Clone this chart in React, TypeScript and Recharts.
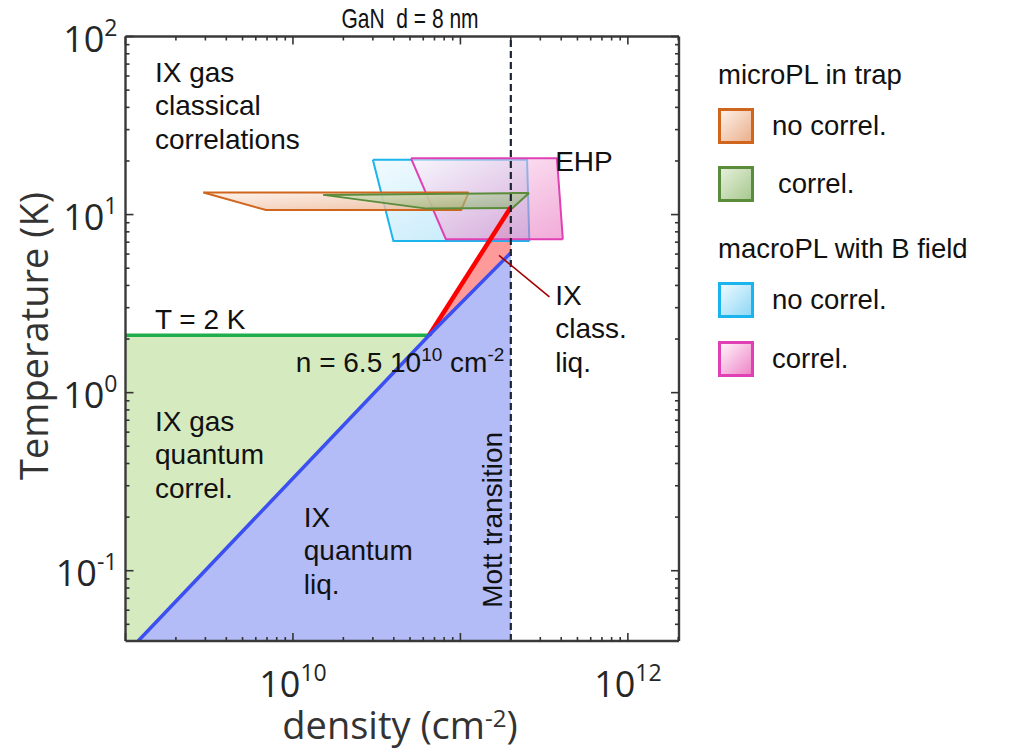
import React from 'react';
import { ComposedChart, Area, Line, XAxis, YAxis, Scatter } from 'recharts';

// ---------- axes ----------
const X_DOMAIN = [1e9, 2.02e12];
const Y_DOMAIN = [0.0403, 100];
const X_DECADES = [9, 10, 11, 12];
const Y_DECADES = [-2, -1, 0, 1, 2];
const X_LABEL_EXPS = [10, 12];
const Y_LABEL_EXPS = [-1, 0, 1, 2];

const buildTicks = (decades: number[], lo: number, hi: number) => {
  const out: number[] = [];
  decades.forEach((d) => {
    [1, 2, 3, 4, 5, 6, 7, 8, 9].forEach((k) => {
      const v = k * Math.pow(10, d);
      if (v >= lo * 0.999 && v <= hi * 1.001) out.push(v);
    });
  });
  return out;
};
const xTicks = buildTicks(X_DECADES, X_DOMAIN[0], X_DOMAIN[1]);
const yTicks = buildTicks(Y_DECADES, Y_DOMAIN[0], Y_DOMAIN[1]);

// ---------- phase diagram regions (n in cm^-2, T in K) ----------
const greenRegion = [
  { n: 1e9, range: [0.0403, 2.1] },
  { n: 1.19e9, range: [0.0403, 2.1] },
  { n: 6.5e10, range: [2.1, 2.1] },
];
const blueRegion = [
  { n: 1.19e9, range: [0.0403, 0.0403] },
  { n: 6.5e10, range: [0.0403, 2.1] },
  { n: 2e11, range: [0.0403, 6.1] },
];
const redRegion = [
  { n: 6.5e10, range: [2.1, 2.1] },
  { n: 2e11, range: [6.1, 11] },
];
const blueLine = [
  { n: 1.19e9, T: 0.0403 },
  { n: 6.5e10, T: 2.1 },
  { n: 2e11, T: 6.1 },
];
const redLine = [
  { n: 6.5e10, T: 2.1 },
  { n: 2e11, T: 11 },
];
const greenLine = [
  { n: 1e9, T: 2.1 },
  { n: 6.5e10, T: 2.1 },
];
const mottLine = [
  { n: 2e11, T: 0.0403 },
  { n: 2e11, T: 100 },
];
const pointerLine = [
  { n: 1.7e11, T: 5.9 },
  { n: 3.4e11, T: 3.45 },
];

// ---------- experimental boxes ----------
const orangeBox = [
  { n: 2.92e9, range: [13.3, 13.3] },
  { n: 6.9e9, range: [10.6, 13.3] },
  { n: 1.01e11, range: [10.6, 13.3] },
  { n: 1.12e11, range: [13.3, 13.3] },
];
const greenBox = [
  { n: 1.52e10, range: [12.9, 12.9] },
  { n: 6.3e10, range: [10.8, 13.05] },
  { n: 2.05e11, range: [10.9, 13.2] },
  { n: 2.57e11, range: [13.2, 13.2] },
];
const cyanBox = [
  { n: 3.0e10, range: [20.3, 20.3] },
  { n: 3.98e10, range: [7.1, 20.3] },
  { n: 2.5e11, range: [7.1, 20.3] },
  { n: 2.58e11, range: [7.1, 7.1] },
];
const pinkBox = [
  { n: 5.07e10, range: [20.7, 20.7] },
  { n: 8.19e10, range: [7.27, 20.7] },
  { n: 3.77e11, range: [7.27, 20.7] },
  { n: 4.09e11, range: [7.27, 7.27] },
];

// ---------- annotations (anchor = left baseline of first line) ----------
const annotations = [
  { n: 1.5e9, T: 55.6, lines: ['IX gas', 'classical', 'correlations'], kind: 'plain' },
  { n: 3.68e11, T: 17.6, lines: ['EHP'], kind: 'plain' },
  { n: 1.5e9, T: 2.28, lines: ['T = 2 K'], kind: 'plain' },
  { n: 1.04e10, T: 1.31, lines: ['n = 6.5 10|10| cm|-2'], kind: 'sup' },
  { n: 1.5e9, T: 0.61, lines: ['IX gas', 'quantum', 'correl.'], kind: 'plain' },
  { n: 1.16e10, T: 0.176, lines: ['IX', 'quantum', 'liq.'], kind: 'plain' },
  { n: 3.68e11, T: 3.11, lines: ['IX', 'class.', 'liq.'], kind: 'plain' },
  { n: 1.77e11, T: 0.193, lines: ['Mott transition'], kind: 'rot' },
];

const legendGroups = [
  {
    title: 'microPL in trap',
    items: [
      { label: 'no correl.', stroke: '#d0661e', from: '#fdf0e8', to: '#eab08c' },
      { label: 'correl.', stroke: '#5b8c3c', from: '#e4f0da', to: '#a9c890' },
    ],
  },
  {
    title: 'macroPL with B field',
    items: [
      { label: 'no correl.', stroke: '#1cb4ec', from: '#eef9fe', to: '#8fd8f6' },
      { label: 'correl.', stroke: '#e040b4', from: '#fff2fa', to: '#ee86c8' },
    ],
  },
];

const TEXT_FONT = "'Liberation Sans', Arial, sans-serif";
const AXIS_FONT = "'Open Sans', 'DejaVu Sans', sans-serif";
const LINE_GAP = 33.5;

const Annotation = (props: any) => {
  const { cx, cy, payload } = props;
  if (cx == null || cy == null) return null;
  const common = { fontFamily: TEXT_FONT, fontSize: 28, fill: '#111' };
  if (payload.kind === 'rot') {
    return (
      <text {...common} x={cx} y={cy} textAnchor="middle" transform={`rotate(-90 ${cx} ${cy})`}>
        {payload.lines[0]}
      </text>
    );
  }
  if (payload.kind === 'sup') {
    const parts = payload.lines[0].split('|');
    return (
      <text {...common} x={cx} y={cy}>
        <tspan>{parts[0]}</tspan>
        <tspan dy={-11} fontSize={19}>{parts[1]}</tspan>
        <tspan dy={11}>{parts[2]}</tspan>
        <tspan dy={-11} fontSize={19}>{parts[3]}</tspan>
      </text>
    );
  }
  return (
    <text {...common} x={cx} y={cy}>
      {payload.lines.map((l: string, i: number) => (
        <tspan key={i} x={cx} dy={i === 0 ? 0 : LINE_GAP}>
          {l}
        </tspan>
      ))}
    </text>
  );
};

const exponentOf = (v: number) => {
  const e = Math.round(Math.log10(v));
  const major = Math.abs(v - Math.pow(10, e)) / v < 1e-6;
  return { e, major };
};

const TICK_COLOR = '#333';
const MAJOR = 8;
const MINOR = 4;
const TICK_FONT = 36;
const SUP_FONT = 23;

const BottomTick = (props: any) => {
  const { x, y, payload } = props;
  const { e, major } = exponentOf(payload.value);
  return (
    <g>
      <line x1={x} x2={x} y1={y} y2={y - (major ? MAJOR : MINOR)} stroke={TICK_COLOR} strokeWidth={1.6} />
      {major && X_LABEL_EXPS.includes(e) && (
        <text x={x} y={y + 56} textAnchor="middle" fontFamily={AXIS_FONT} fontSize={TICK_FONT} fill="#262626">
          10<tspan dy={-16} fontSize={SUP_FONT}>{e}</tspan>
        </text>
      )}
    </g>
  );
};
const TopTick = (props: any) => {
  const { x, y, payload } = props;
  const { major } = exponentOf(payload.value);
  return <line x1={x} x2={x} y1={y} y2={y + (major ? MAJOR : MINOR)} stroke={TICK_COLOR} strokeWidth={1.6} />;
};
const LeftTick = (props: any) => {
  const { x, y, payload } = props;
  const { e, major } = exponentOf(payload.value);
  return (
    <g>
      <line x1={x} x2={x + (major ? MAJOR : MINOR)} y1={y} y2={y} stroke={TICK_COLOR} strokeWidth={1.6} />
      {major && Y_LABEL_EXPS.includes(e) && (
        <text x={x - 8} y={y + 15.5} textAnchor="end" fontFamily={AXIS_FONT} fontSize={TICK_FONT} fill="#262626">
          10<tspan dy={-16} fontSize={SUP_FONT}>{e}</tspan>
        </text>
      )}
    </g>
  );
};
const RightTick = (props: any) => {
  const { x, y, payload } = props;
  const { major } = exponentOf(payload.value);
  return <line x1={x} x2={x - (major ? MAJOR : MINOR)} y1={y} y2={y} stroke={TICK_COLOR} strokeWidth={1.6} />;
};

const axisLine = { stroke: '#3a3a3a', strokeWidth: 2.4 };

const rangeArea = (key: string, data: any[], fill: string, stroke: string, sw = 2, opacity = 1) => (
  <Area
    key={key}
    data={data}
    dataKey="range"
    type="linear"
    fill={fill}
    fillOpacity={opacity}
    stroke={stroke}
    strokeWidth={sw}
    isAnimationActive={false}
    dot={false}
    activeDot={false}
    legendType="none"
  />
);

export default function App() {
  return (
    <div style={{ position: 'absolute', left: 0, top: 0, width: 1009, height: 750, background: '#fff' }}>
      <svg width={0} height={0} style={{ position: 'absolute' }}>
        <defs>
          <linearGradient id="gOrange" x1="0" y1="0" x2="1" y2="1">
            <stop offset="0%" stopColor="#fdf0e8" />
            <stop offset="100%" stopColor="#eab08c" />
          </linearGradient>
          <linearGradient id="gGreen" x1="0" y1="0" x2="1" y2="1">
            <stop offset="0%" stopColor="#c8e0b4" />
            <stop offset="100%" stopColor="#86ad6a" />
          </linearGradient>
          <linearGradient id="gCyan" x1="0" y1="0" x2="1" y2="1">
            <stop offset="0%" stopColor="#eaf8fe" />
            <stop offset="100%" stopColor="#9adcf7" />
          </linearGradient>
          <linearGradient id="gPink" x1="0" y1="0" x2="1" y2="1">
            <stop offset="0%" stopColor="#fff4fb" />
            <stop offset="100%" stopColor="#e666b8" />
          </linearGradient>
        </defs>
      </svg>
      <ComposedChart
        width={1009}
        height={750}
        margin={{ top: 35.5, right: 329, bottom: 108, left: 124.5 }}
      >
        <XAxis
          xAxisId={0}
          dataKey="n"
          type="number"
          scale="log"
          domain={X_DOMAIN}
          allowDataOverflow
          ticks={xTicks}
          interval={0}
          height={1}
          tickSize={0}
          tickMargin={0}
          tick={<BottomTick />}
          tickLine={false}
          axisLine={axisLine}
        />
        <XAxis
          xAxisId="top"
          orientation="top"
          dataKey="n"
          type="number"
          scale="log"
          domain={X_DOMAIN}
          allowDataOverflow
          ticks={xTicks}
          interval={0}
          height={1}
          tickSize={0}
          tickMargin={0}
          tick={<TopTick />}
          tickLine={false}
          axisLine={axisLine}
        />
        <YAxis
          yAxisId={0}
          dataKey="T"
          type="number"
          scale="log"
          domain={Y_DOMAIN}
          allowDataOverflow
          ticks={yTicks}
          interval={0}
          width={1}
          tickSize={0}
          tickMargin={0}
          tick={<LeftTick />}
          tickLine={false}
          axisLine={axisLine}
        />
        <YAxis
          yAxisId="right"
          orientation="right"
          dataKey="T"
          type="number"
          scale="log"
          domain={Y_DOMAIN}
          allowDataOverflow
          ticks={yTicks}
          interval={0}
          width={1}
          tickSize={0}
          tickMargin={0}
          tick={<RightTick />}
          tickLine={false}
          axisLine={axisLine}
        />

        {rangeArea('green', greenRegion, '#d5eabf', 'none', 0)}
        {rangeArea('blue', blueRegion, '#b3bcf6', 'none', 0)}
        {rangeArea('red', redRegion, '#ff9a9a', 'none', 0)}

        <Line data={greenLine} dataKey="T" type="linear" stroke="#1fae4b" strokeWidth={3.5} dot={false} activeDot={false} isAnimationActive={false} legendType="none" />
        <Line data={redLine} dataKey="T" type="linear" stroke="#ff0000" strokeWidth={4.5} dot={false} activeDot={false} isAnimationActive={false} legendType="none" />
        <Line data={blueLine} dataKey="T" type="linear" stroke="#3b4ff2" strokeWidth={3.5} dot={false} activeDot={false} isAnimationActive={false} legendType="none" />
        <Line data={mottLine} dataKey="T" type="linear" stroke="#1c2433" strokeWidth={2.2} strokeDasharray="7 4" dot={false} activeDot={false} isAnimationActive={false} legendType="none" />
        <Line data={pointerLine} dataKey="T" type="linear" stroke="#a40000" strokeWidth={1.6} dot={false} activeDot={false} isAnimationActive={false} legendType="none" />

        {rangeArea('cyanBox', cyanBox, 'url(#gCyan)', '#1cb4ec', 2, 0.65)}
        {rangeArea('pinkBox', pinkBox, 'url(#gPink)', '#e040b4', 2, 0.55)}
        {rangeArea('orangeBox', orangeBox, 'url(#gOrange)', '#d0661e', 2, 0.8)}
        {rangeArea('greenBox', greenBox, 'url(#gGreen)', '#5b8c3c', 2, 0.6)}

        <Scatter data={annotations} dataKey="T" shape={<Annotation />} isAnimationActive={false} legendType="none" />
      </ComposedChart>

      {/* title */}
      <div
        style={{
          position: 'absolute', left: 410, top: 3, transform: 'translateX(-50%) scaleX(0.75)',
          fontFamily: TEXT_FONT, fontSize: 28, color: '#111', whiteSpace: 'pre', lineHeight: '32px',
        }}
      >
        {'GaN  d = 8 nm'}
      </div>
      {/* y label */}
      <div
        style={{
          position: 'absolute', left: 33, top: 336, transform: 'translate(-50%, -50%) rotate(-90deg)',
          fontFamily: AXIS_FONT, fontSize: 38, color: '#333', whiteSpace: 'nowrap', lineHeight: '44px',
        }}
      >
        Temperature (K)
      </div>
      {/* x label */}
      <div
        style={{
          position: 'absolute', left: 400, top: 724, transform: 'translate(-50%, -50%)',
          fontFamily: AXIS_FONT, fontSize: 38, color: '#333', whiteSpace: 'nowrap', lineHeight: '44px',
        }}
      >
        density (cm<sup style={{ fontSize: 24, verticalAlign: 'top', position: 'relative', top: -6 }}>-2</sup>)
      </div>
      {/* legend */}
      <div style={{ position: 'absolute', left: 718, top: 57, fontFamily: TEXT_FONT, color: '#111' }}>
        {legendGroups.map((g, gi) => (
          <div key={gi} style={{ marginBottom: gi === 0 ? 30 : 0 }}>
            <div style={{ fontSize: 27.5, lineHeight: '36px', height: 36, marginBottom: 16 }}>{g.title}</div>
            {g.items.map((it, ii) => (
              <div key={ii} style={{ display: 'flex', alignItems: 'center', height: 34, marginBottom: gi === 1 ? 25 : 24 }}>
                <div
                  style={{
                    width: 30, height: 30, border: `3px solid ${it.stroke}`,
                    background: `linear-gradient(135deg, ${it.from}, ${it.to})`,
                  }}
                />
                <div style={{ fontSize: 27.5, marginLeft: ii === 1 && gi === 0 ? 24 : 18 }}>{it.label}</div>
              </div>
            ))}
          </div>
        ))}
      </div>
    </div>
  );
}
